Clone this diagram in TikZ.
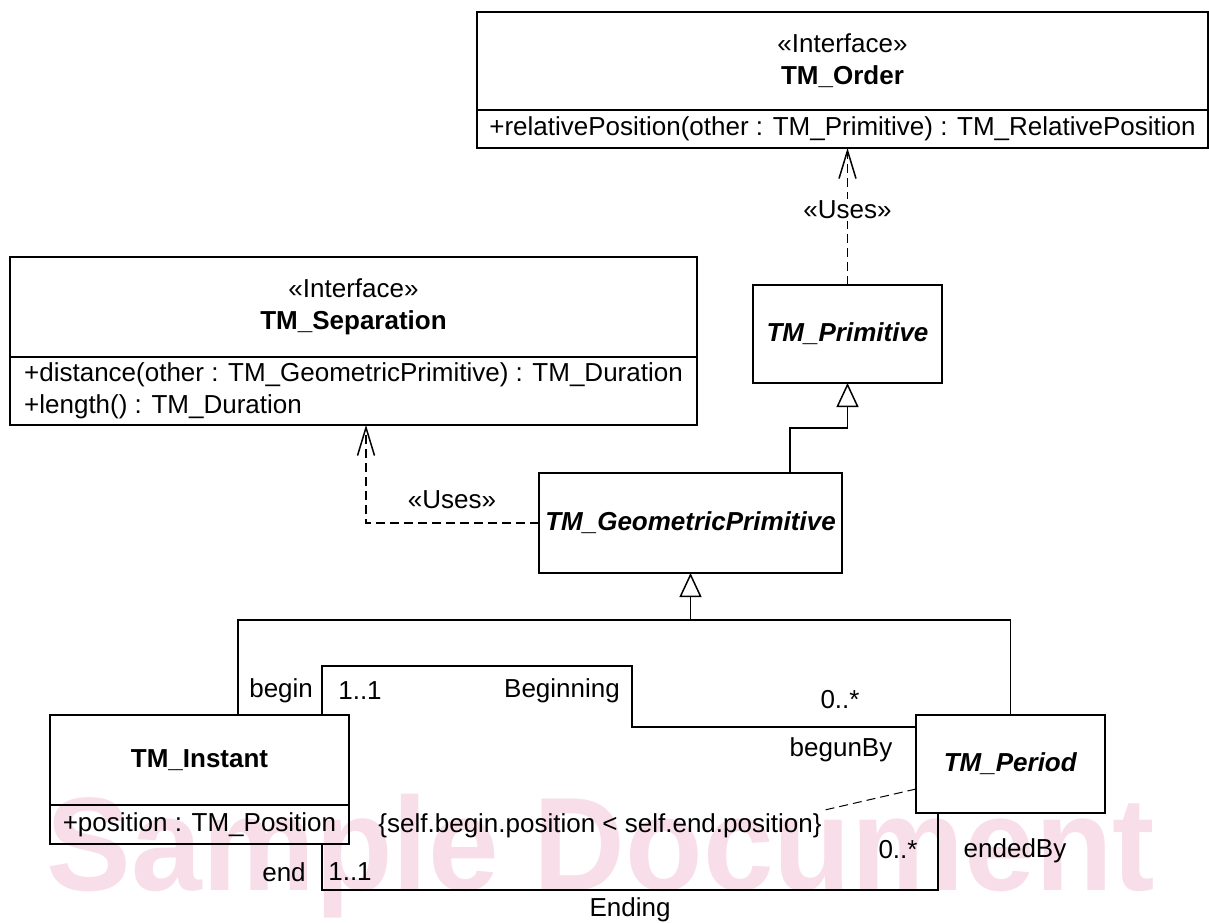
\documentclass[tikz,border=0pt]{standalone}
\usepackage{fontspec}
\setmainfont{Liberation Sans}
\usetikzlibrary{arrows.meta}

\definecolor{wmpink}{RGB}{248,222,232}

\tikzset{every picture/.style={line width=1.5pt}}
\tikzset{
  umlhead/.style={draw, line width=1.8pt, align=center, inner sep=0pt, outer sep=0pt, anchor=north west},
  umlops/.style={draw, line width=1.8pt, align=left, inner sep=0pt, outer sep=0pt, anchor=north west},
  uses/.style={dash pattern=on 9pt off 5pt, -{Straight Barb[length=28pt,width=17pt]}},
  gen/.style={-{Triangle[open,length=24pt,width=22pt,fill=white]}},
}

\begin{document}
\begin{tikzpicture}[x=1pt,y=1pt,yscale=-1,xscale=1,
  every node/.style={font=\fontsize{26}{32}\selectfont}]
\useasboundingbox (0,0) rectangle (1209,922);

% Watermark
\node[anchor=base, text=wmpink, inner sep=0pt, font=\fontsize{133}{133}\bfseries] (wmark) at (601,890) {\scalebox{0.955}[1]{Sample Document}};

% Classes
\node[umlhead, minimum width=731pt, minimum height=98pt] (orderhead) at (477,12) {«Interface»\\\textbf{TM\_Order}};
\node[umlops, minimum width=731pt, minimum height=38pt] (orderops) at (orderhead.south west) {+relativePosition(other : TM\_Primitive) : TM\_RelativePosition};

\node[umlhead, minimum width=687pt, minimum height=100pt] (sephead) at (10,257) {«Interface»\\\textbf{TM\_Separation}};
\node[umlops, minimum width=687pt, minimum height=68pt] (sepops) at (sephead.south west) {+distance(other : TM\_GeometricPrimitive) : TM\_Duration\\+length() : TM\_Duration};

\node[umlhead, minimum width=189pt, minimum height=98pt] (prim) at (753,285) {\textbf{\textit{TM\_Primitive}}};
\node[umlhead, minimum width=303pt, minimum height=100pt] (geo) at (539,473) {\textbf{\textit{TM\_GeometricPrimitive}}};

\node[umlhead, minimum width=299pt, minimum height=90pt] (insthead) at (50,715) {\textbf{TM\_Instant}};
\node[umlops, minimum width=299pt, minimum height=39pt] (instops) at (insthead.south west) {+position : TM\_Position};

\node[umlhead, minimum width=189pt, minimum height=98pt] (per) at (916,715) {\textbf{\textit{TM\_Period}}};

% Corner points
\coordinate (sepdep) at (366,425);
\coordinate (genbar) at (690.5,620);
\coordinate (begcorner) at (632,666);
\coordinate (endcorner) at (322,890);

% Dependencies
\draw[uses] (prim.north) -- (prim.north |- orderops.south) node[pos=0.55, fill=white, inner sep=2pt] (usesorder) {«Uses»};
\draw[uses] (geo.west) -| (sepdep);
\node (usessep) at (452,500) {«Uses»};

% Generalisations
\draw[gen] ([xshift=99.5pt]geo.north) -- ++(0,-45) -| (prim.south);
\draw ([xshift=38.5pt]insthead.north) |- (genbar) -| (per.north);
\draw[gen] (genbar) -- (geo.south);

% Beginning
\draw ([xshift=122.5pt]insthead.north) |- (begcorner) |- ([yshift=-37pt]per.west);
\node[anchor=east] (rbegin) at (317,691) {begin};
\node (mbegin) at (360,691) {1..1};
\node (nbegin) at (562,691) {Beginning};
\node (mbegunby) at (840,700) {0..*};
\node (rbegunby) at (841,750) {begunBy};

% Ending
\draw ([xshift=122.5pt]instops.south) -- (endcorner) -| ([xshift=-72.5pt]per.south);
\node (rend) at (284,872) {end};
\node (mend) at (350,872) {1..1};
\node (nend) at (630,910) {Ending};
\node (mendedby) at (898,850) {0..*};
\node (rendedby) at (1015,851) {endedBy};

% Constraint
\node (cstr) at (600,826) {\{self.begin.position < self.end.position\}};
\draw[dash pattern=on 9pt off 5pt, line width=1pt] (cstr.north east) -- ([yshift=25pt]per.west);

\end{tikzpicture}
\end{document}
